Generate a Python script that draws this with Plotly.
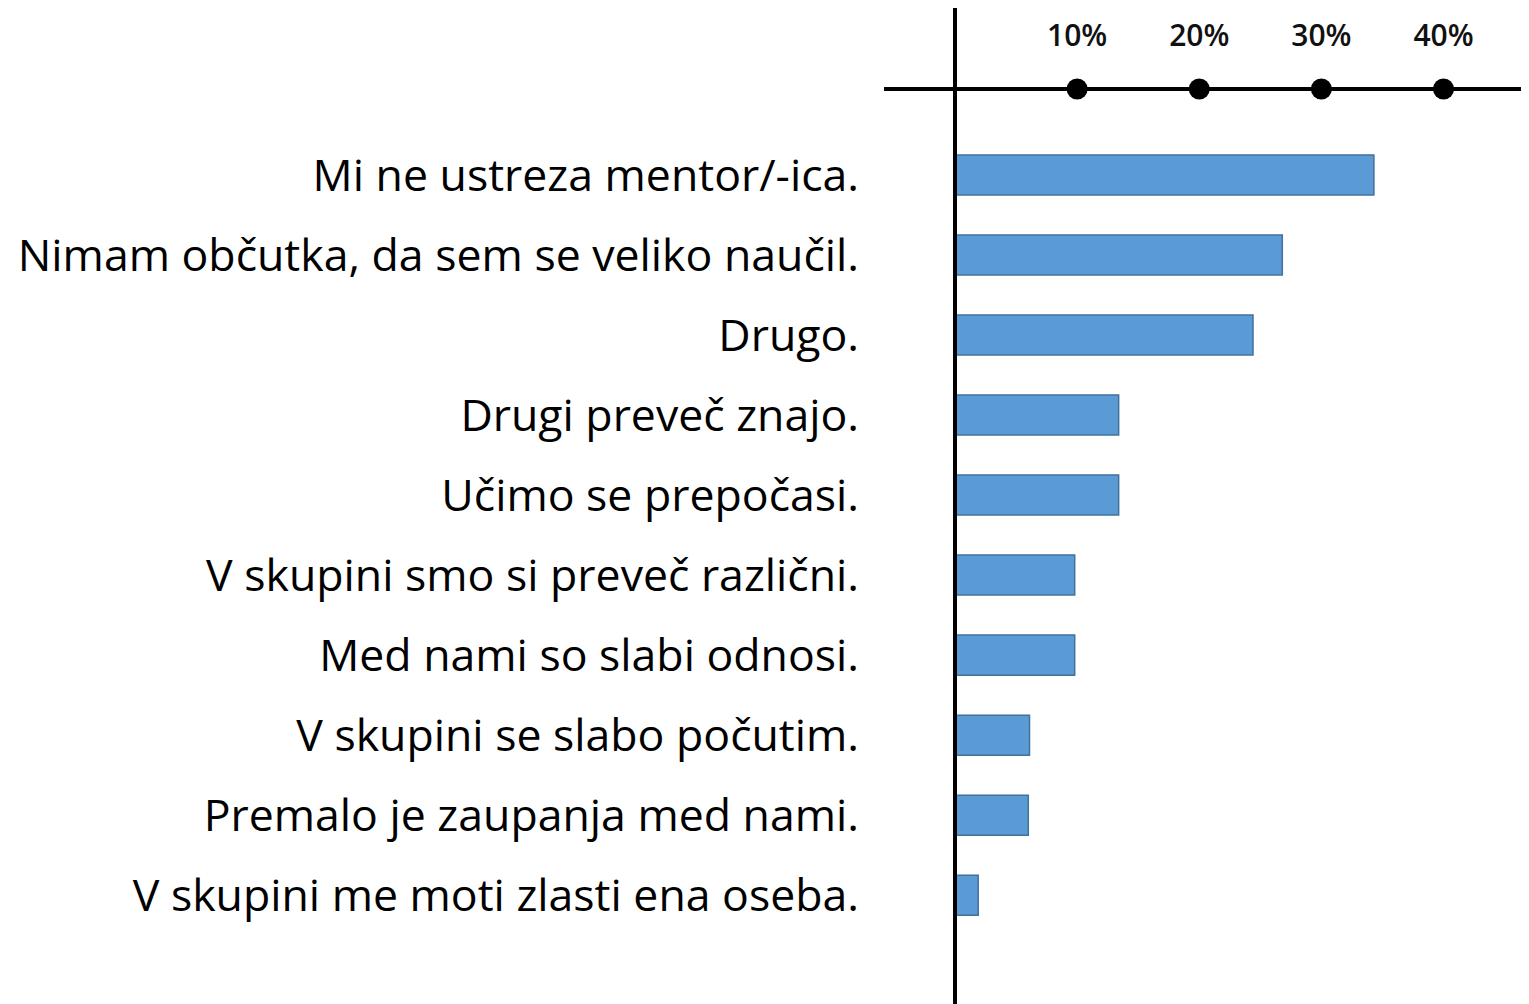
import plotly.graph_objects as go

categories = [
    "Mi ne ustreza mentor/-ica.",
    "Nimam občutka, da sem se veliko naučil.",
    "Drugo.",
    "Drugi preveč znajo.",
    "Učimo se prepočasi.",
    "V skupini smo si preveč različni.",
    "Med nami so slabi odnosi.",
    "V skupini se slabo počutim.",
    "Premalo je zaupanja med nami.",
    "V skupini me moti zlasti ena oseba.",
]
values = [34.3, 26.8, 24.4, 13.4, 13.4, 9.8, 9.8, 6.1, 6.0, 1.9]
tick_vals = [10, 20, 30, 40]
tick_text = ["10%", "20%", "30%", "40%"]

OFF = 8  # browser default body margin
W, H = 1529 - OFF, 1004 - OFF
L, T = 955 - OFF, 89 - OFF
plot_w = W - L
plot_h = H - T

fig = go.Figure()
fig.add_trace(go.Bar(
    x=values, y=categories, orientation="h",
    marker=dict(color="#5B9BD5", line=dict(color="#41719C", width=1.5)),
    showlegend=False, hoverinfo="x+y",
))
fig.add_trace(go.Scatter(
    x=tick_vals, y=[1] * len(tick_vals), yaxis="y2", mode="markers",
    marker=dict(color="black", size=21), cliponaxis=False,
    showlegend=False, hoverinfo="skip",
))

fig.update_layout(
    width=W, height=H,
    margin=dict(l=L, r=0, t=T, b=0),
    paper_bgcolor="white", plot_bgcolor="white",
    bargap=0.5,
    font=dict(family="'Open Sans', Lato, sans-serif", color="black"),
    xaxis=dict(
        range=[0, 47], side="top", showgrid=False, zeroline=False,
        showline=False, tickmode="array", tickvals=tick_vals, ticktext=tick_text,
        tickfont=dict(size=30, color="#111111", weight=600), ticklabelstandoff=36,
    ),
    yaxis=dict(
        type="category", categoryorder="array", categoryarray=categories,
        range=[10.36, -1.075], showgrid=False, zeroline=False, showline=False,
        ticks="", tickfont=dict(size=44.6, color="black"), ticklabelstandoff=95,
    ),
    yaxis2=dict(overlaying="y", range=[0, 1], visible=False),
    shapes=[
        dict(type="line", xref="paper", yref="paper",
             x0=(884 - 955) / plot_w, x1=1, y0=1, y1=1,
             line=dict(color="black", width=4), layer="below"),
        dict(type="line", xref="paper", yref="paper",
             x0=0, x1=0, y0=0, y1=(H - 0) / plot_h,
             line=dict(color="black", width=4), layer="above"),
    ],
)

fig.write_html("out.html")
